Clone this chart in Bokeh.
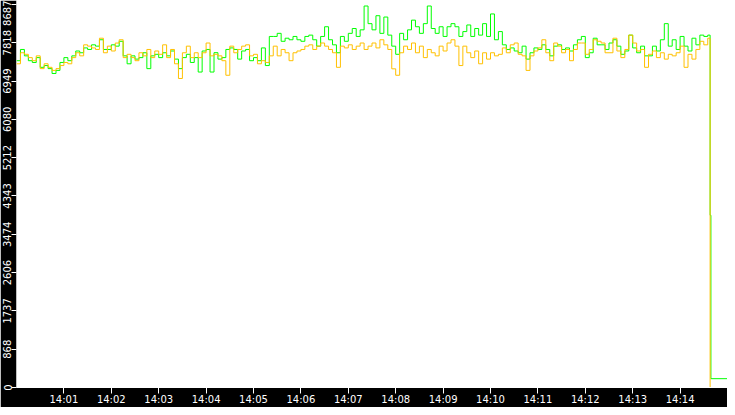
import pandas as pd
from bokeh.embed import file_html
from bokeh.models import DatetimeTickFormatter, FixedTicker, Range1d
from bokeh.plotting import figure
from bokeh.resources import INLINE

# samples every 5 s from 14:00:00, then the drop at the end
secs = list(range(0, 880, 5)) + [878, 879, 900]

orange = [
    7340, 7590, 7555, 7480, 7410, 7520, 7230, 7340, 7260, 7190, 7230, 7300,
    7370, 7340, 7480, 7590, 7520, 7770, 7740, 7700, 7665, 7920, 7590, 7740,
    7630, 7810, 7885, 7480, 7555, 7480, 7410, 7590, 7520, 7665, 7480, 7630,
    7555, 7770, 7480, 7665, 7340, 7007, 7590, 7740, 7480, 7590, 7480, 7590,
    7811, 7520, 7555, 7520, 7410, 7080, 7740, 7590, 7665, 7740, 7770, 7520,
    7555, 7340, 7410, 7370, 7520, 7740, 7520, 7665, 7590, 7410, 7590, 7630,
    7665, 7740, 7770, 7665, 7740, 7811, 7740, 7665, 7590, 7260, 7740, 7700,
    7770, 7665, 7740, 7811, 7665, 7740, 7811, 7700, 7885, 7770, 7665, 7226,
    7080, 7590, 7740, 7665, 7811, 7590, 7740, 7480, 7665, 7590, 7520, 7740,
    7630, 7811, 7885, 7740, 7300, 7740, 7590, 7480, 7630, 7340, 7590, 7446,
    7590, 7520, 7555, 7700, 7590, 7770, 7811, 7555, 7520, 7190, 7520, 7630,
    7700, 7885, 7590, 7410, 7811, 7740, 7590, 7665, 7410, 7665, 7811, 7811,
    7555, 7665, 7885, 7850, 7811, 7590, 7590, 7920, 7630, 7480, 7665, 7990,
    7811, 7630, 7665, 7260, 7555, 7630, 7480, 7590, 7446, 7555, 7520, 7590,
    7740, 7260, 7555, 7446, 7665, 7850, 7770, 7920,
    0, 0, 0,
]

green = [
    7410, 7665, 7520, 7410, 7370, 7480, 7260, 7300, 7230, 7120, 7190, 7370,
    7480, 7410, 7520, 7630, 7590, 7700, 7665, 7770, 7740, 7885, 7665, 7665,
    7770, 7740, 7850, 7520, 7340, 7520, 7446, 7480, 7590, 7230, 7520, 7555,
    7480, 7590, 7520, 7630, 7446, 7230, 7480, 7555, 7370, 7480, 7153, 7630,
    7665, 7153, 7592, 7446, 7480, 7665, 7700, 7665, 7446, 7630, 7665, 7410,
    7480, 7410, 7700, 7300, 7960, 7960, 8030, 7850, 7920, 7885, 7960, 7885,
    7850, 7960, 7990, 7885, 7740, 7960, 8180, 7885, 7770, 7590, 7960, 7850,
    8030, 8140, 7960, 8110, 8650, 8250, 8110, 8430, 8030, 8400, 7990, 7740,
    7555, 8030, 7885, 8110, 8330, 8180, 8030, 8250, 8650, 8140, 8030, 8180,
    7960, 8180, 8250, 8180, 7960, 8070, 8220, 7960, 8140, 7990, 8250, 7960,
    8470, 7885, 8070, 7770, 7665, 7700, 7630, 7590, 7740, 7446, 7590, 7700,
    7665, 7770, 7665, 7520, 7740, 7770, 7665, 7700, 7630, 7770, 7885, 7960,
    7480, 7590, 7920, 7770, 7770, 7665, 7811, 7885, 7740, 7555, 7630, 7990,
    7700, 7590, 7740, 7520, 7520, 7740, 7630, 7885, 8250, 7740, 7885, 7665,
    7960, 7740, 7630, 7920, 7770, 7990, 7960, 7990,
    3906, 200, 200,
]

y_ticks = [0, 868, 1737, 2606, 3474, 4343, 5212, 6080, 6949, 7818, 8687]
x_tick_minutes = list(range(1, 15))

start = pd.Timestamp("2024-01-01 14:00:00")
t = start + pd.to_timedelta(secs, unit="s")

p = figure(width=727, height=407, x_axis_type="datetime",
           x_range=Range1d(start, start + pd.Timedelta(minutes=15)),
           y_range=Range1d(0, 8775),
           output_backend="svg", toolbar_location=None,
           background_fill_color="white", border_fill_color="black",
           min_border_left=0, min_border_right=0, min_border_top=0,
           min_border_bottom=0, outline_line_color=None)

p.step(t, green, mode="after", line_color="#00ff00", line_width=1)
p.step(t, orange, mode="after", line_color="#ffc000", line_width=1)

p.grid.visible = False

p.xaxis.ticker = FixedTicker(ticks=[(start + pd.Timedelta(minutes=m)).value / 1e6
                                    for m in x_tick_minutes])
p.xaxis.formatter = DatetimeTickFormatter(seconds="%H:%M", minsec="%H:%M",
                                          minutes="%H:%M", hourmin="%H:%M",
                                          hours="%H:%M")
p.yaxis.ticker = FixedTicker(ticks=y_ticks)
p.yaxis.major_label_orientation = "vertical"

for ax in (p.xaxis, p.yaxis):
    ax.axis_line_color = "white"
    ax.major_tick_line_color = "white"
    ax.major_tick_in = 0
    ax.minor_tick_line_color = None
    ax.major_label_text_color = "white"
    ax.major_label_text_font = "DejaVu Sans"
    ax.major_label_text_font_size = "10px"
    ax.major_label_standoff = 0

p.yaxis.axis_line_color = None
p.yaxis.major_tick_out = 5
p.xaxis.major_tick_out = 6

open("out.html", "w").write(file_html(p, INLINE))
